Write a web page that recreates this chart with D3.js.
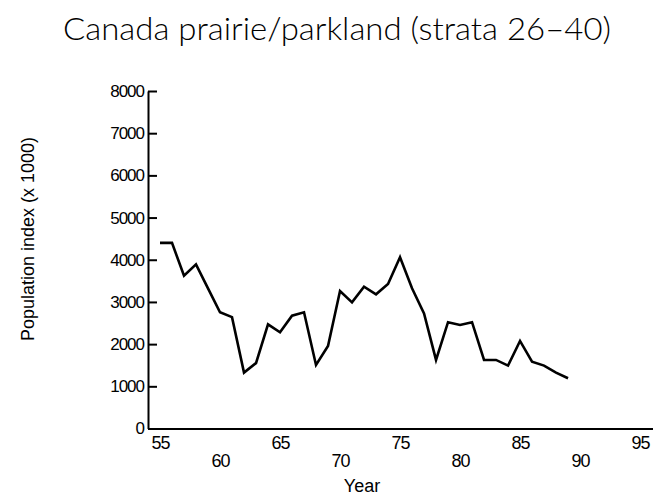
<!DOCTYPE html>
<html>
<head>
<meta charset="utf-8">
<script src="https://cdn.jsdelivr.net/npm/d3@7"></script>
<style>
  body { margin: 0; background: #fff; }
  svg { display: block; }
</style>
</head>
<body>
<div id="chart"></div>
<script>
var svgWidth = 653;
var svgHeight = 502;

// years 1955-1989
var years = d3.range(55, 90);
var popIndex = [4400, 4400, 3620, 3890, 3320, 2755, 2640, 1325, 1550, 2470,
                2280, 2675, 2755, 1507, 1957, 3260, 2990, 3360, 3180, 3425,
                4060, 3325, 2730, 1625, 2520, 2455, 2520, 1625, 1625, 1490,
                2075, 1585, 1490, 1325, 1190];
var yTicks = [0, 1000, 2000, 3000, 4000, 5000, 6000, 7000, 8000];
var xTicks = [55, 60, 65, 70, 75, 80, 85, 90, 95];

var svg = d3.select("#chart")
  .append("svg")
  .attr("width", svgWidth)
  .attr("height", svgHeight);

var xScale = d3.scaleLinear()
  .domain([54, 96.08])
  .range([148, 653]);

var yScale = d3.scaleLinear()
  .domain([0, 8000])
  .range([428.5, 91]);

// title
svg.append("text")
  .attr("x", 337)
  .attr("y", 40)
  .attr("text-anchor", "middle")
  .attr("textLength", 548)
  .attr("lengthAdjust", "spacingAndGlyphs")
  .style("font-family", "Lato, 'DejaVu Sans', sans-serif")
  .style("font-weight", 300)
  .style("font-size", "31px")
  .text("Canada prairie/parkland (strata 26\u201340)");

// y axis
var leftAxis = d3.axisLeft(yScale)
  .tickValues(yTicks)
  .tickSizeInner(0)
  .tickSizeOuter(0)
  .tickPadding(4)
  .tickFormat(d3.format("d"));

var gy = svg.append("g")
  .attr("transform", `translate(148, 0)`)
  .call(leftAxis);

gy.select(".domain").attr("stroke", "#000").attr("stroke-width", 2);
// ticks point inward (to the right of the axis)
gy.selectAll(".tick line")
  .attr("x1", 0)
  .attr("x2", 9)
  .attr("stroke", "#000")
  .attr("stroke-width", 2);
gy.selectAll(".tick text")
  .style("font-family", "'Liberation Sans', Arial, sans-serif")
  .style("font-size", "17px")
  .style("letter-spacing", "-1px")
  .attr("fill", "#000");

// x axis, labels staggered on two rows
var bottomAxis = d3.axisBottom(xScale)
  .tickValues(xTicks)
  .tickSize(0)
  .tickPadding(8)
  .tickFormat(d3.format("d"));

var gx = svg.append("g")
  .attr("transform", `translate(0, 428.5)`)
  .call(bottomAxis);

gx.select(".domain").attr("stroke", "#000").attr("stroke-width", 2);
gx.selectAll(".tick text")
  .attr("dy", (d, i) => i % 2 === 0 ? "0.71em" : "1.72em")
  .style("font-family", "'Liberation Sans', Arial, sans-serif")
  .style("font-size", "18px")
  .style("letter-spacing", "-1px")
  .attr("fill", "#000");

// series line
var line = d3.line()
  .x((d, i) => xScale(years[i]))
  .y(d => yScale(d));

svg.append("path")
  .datum(popIndex)
  .attr("fill", "none")
  .attr("stroke", "#000")
  .attr("stroke-width", 2.6)
  .attr("stroke-linejoin", "miter")
  .attr("d", line);

// axis titles
svg.append("text")
  .attr("x", 362)
  .attr("y", 492)
  .attr("text-anchor", "middle")
  .style("font-family", "'Liberation Sans', Arial, sans-serif")
  .style("font-size", "18px")
  .text("Year");

svg.append("text")
  .attr("transform", "translate(34, 239) rotate(-90)")
  .attr("text-anchor", "middle")
  .style("font-family", "'Liberation Sans', Arial, sans-serif")
  .style("font-size", "18px")
  .text("Population index (x 1000)");
</script>
</body>
</html>
